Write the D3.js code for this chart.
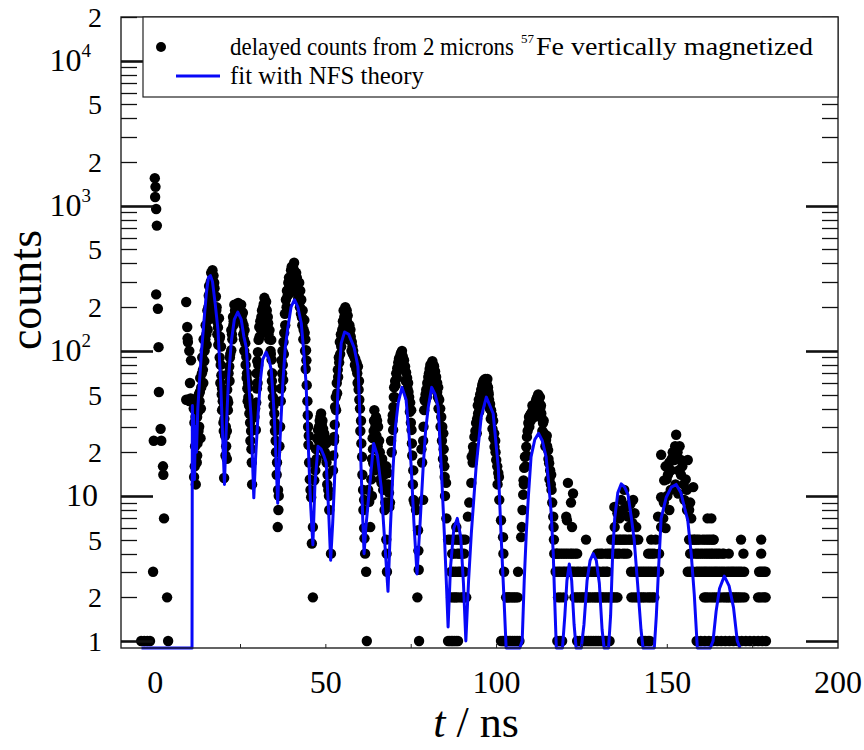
<!DOCTYPE html>
<html>
<head>
<meta charset="utf-8">
<script src="https://cdn.jsdelivr.net/npm/d3@7"></script>
<style>
  body { margin: 0; background: #fff; }
</style>
</head>
<body>
<svg width="864" height="750" font-family="'Liberation Serif', 'DejaVu Serif', 'Times New Roman', serif"></svg>
<script>
// delayed counts [t in ns, counts]
const delayedCounts = [
  [-4.1,1],[-3.2,1],[-2.3,1],[-1.5,1],[-0.6,3],[-0.4,24],[-0.1,1550],[0.1,1350],[0.0,1150],[0.3,950],[0.5,730],
  [0.3,245],[0.8,195],[1.0,106],[1.1,52],[1.6,29],[1.8,24],[2.3,16],[2.4,14],[2.6,7],[3.5,2],[3.8,1],
  [9.1,217],[9.1,46],[9.4,146],[9.5,122],[9.6,115],[10.5,86],[11.1,46],[11.5,32],[11.7,22],[12.0,28],[11.4,13.5],
  [12.2,17],[11.9,12],[12.6,38],[13.0,45],[13.5,56],[14.0,74],[14.5,100],[15.0,130],[15.3,190],[15.5,163],[16.0,250],
  [16.4,345],[16.8,360],[17.0,300],[17.3,295],[17.5,200],[17.8,237],[18.1,160],[18.7,168],[19.0,125],[19.3,107],
  [19.4,68],[19.8,45],[19.6,39],[20.0,32],[20.3,34],[20.8,22],[20.2,13.3],[21.0,18],
  [15.8,280],[16.2,220],[16.6,300],[17.2,240],[17.6,170],[18.0,200],[18.4,145],[15.6,200],[16.0,170],[14.8,150],
  [14.2,120],[13.8,90],[13.2,65],[12.8,50],[18.9,90],[19.1,60],[19.6,55],[20.5,26],[12.4,23],[12.9,30],[13.3,25],
  [9.6,46],[10.0,45],[10.4,47],[10.8,46],[10.0,100],[10.2,60],[11.3,40],[11.8,35],[12.1,24],[11.6,16],[12.3,19],
  [12.3,35],[12.7,28],[13.1,52],[13.4,40],[13.7,70],[14.1,60],[14.4,85],[14.7,120],[15.1,110],[15.4,140],[15.7,240],
  [16.3,300],[16.6,260],[17.1,330],[17.4,270],[17.9,190],[18.2,130],[18.5,110],[18.8,120],[19.2,80],[19.5,50],
  [19.9,40],[20.1,28],[20.6,19],
  [21.1,54],[21.2,46],[21.3,39],[21.7,78],[22.3,101],[22.3,139],[22.8,171],[23.2,208],[23.7,200],[24.3,214],[24.8,200],
  [25.2,208],[25.7,183],[26.2,139],[26.4,113],[26.7,91],[27.2,60],[27.3,48],[27.6,37],[28.1,28],[28.2,21],[28.4,12],
  [22.6,120],[23.0,160],[23.5,180],[24.0,190],[24.6,180],[25.0,170],[25.5,160],[25.9,150],[26.0,120],[21.9,90],
  [21.5,70],[26.9,70],[27.0,55],
  [21.4,44],[21.8,62],[22.0,95],[22.5,130],[22.9,150],[23.4,190],[23.9,210],[24.5,195],[25.1,190],[25.4,175],
  [25.8,130],[26.1,100],[26.5,80],[26.8,65],[27.1,45],[27.5,42],[27.8,32],[27.9,24],[28.3,17],[21.0,28],[20.7,30],
  [29.1,35],[29.5,28.5],[29.6,44],[29.7,70],[30.1,98],[30.3,119],[30.5,146],[31.1,171],[31.6,198],[32.0,232],[32.5,218],
  [33.0,171],[33.5,139],[34.0,119],[34.1,87],[34.5,48],[34.9,37],[35.1,28],[35.4,20],[35.7,17],[36.0,11],[36.1,8],[35.9,6.1],
  [30.8,160],[31.3,190],[31.8,210],[32.3,180],[32.8,150],[33.2,130],[33.8,100],[34.3,70],[30.0,60],[29.9,85],
  [29.3,40],[29.8,55],[30.2,80],[30.6,125],[31.0,140],[31.4,165],[31.9,185],[32.2,200],[32.7,190],[33.1,155],
  [33.4,120],[33.9,95],[34.2,62],[34.4,55],[34.7,42],[35.0,32],[35.3,24],[35.6,14],[36.2,10],
  [36.6,30],[37.0,86],[37.5,63],[37.8,133],[38.3,225],[39.0,295],[39.4,250],[39.8,360],[40.3,330],[40.7,405],[41.0,300],
  [41.3,345],[41.8,260],[42.2,295],[42.8,225],[43.2,190],[43.7,163],[43.8,133],[44.2,101],[44.3,86],[44.4,58],[44.8,30],
  [44.9,22.5],[45.1,17],[45.7,9.8],[46.2,6.1],[46.2,2],[45.9,4.7],
  [38.6,260],[39.2,320],[39.6,280],[40.0,380],[40.5,370],[41.5,320],[42.0,240],[42.5,260],[43.0,170],[38.0,180],
  [37.3,100],[37.6,115],[43.5,140],[44.0,120],
  [36.8,45],[37.2,70],[37.4,80],[37.7,95],[38.1,150],[38.5,200],[38.8,240],[39.3,280],[39.7,310],[40.2,350],
  [40.9,350],[41.2,280],[41.6,300],[41.9,230],[42.4,200],[42.7,180],[43.1,150],[43.4,120],[43.9,100],[44.1,75],
  [44.6,45],[44.7,36],[45.0,26],[45.3,13],[45.5,11],[36.4,22],[36.9,55],
  [46.6,12.8],[47.1,21],[47.7,28.5],[48.2,33],[48.6,37],[49.0,33],[49.5,27],[50.1,23],[50.2,17],[50.7,11],[51.0,8],[51.5,4],
  [47.4,25],[48.0,30],[48.4,35],[48.8,31],[49.2,29],[49.8,25],[47.0,17],[50.5,14],
  [46.9,15],[47.3,18],[47.9,24],[48.4,28],[49.3,23],[49.7,20],[50.0,19],[50.4,12],[50.9,10],
  [52.1,15],[52.4,24],[52.4,25.5],[52.7,41],[53.0,39],[53.3,51],[53.6,66],[53.9,83],[54.5,107],[54.8,140],[55.4,171],
  [55.9,185],[56.2,160],[56.8,139],[57.3,125],[57.8,107],[58.3,91],[59.0,83],[59.4,78],[59.6,54],[59.8,46],[60.3,33],
  [60.4,23],[60.6,18.6],[60.9,11],[61.2,9.4],[61.3,5.1],[61.5,4],[61.8,3],[62.0,1],
  [54.2,95],[54.6,125],[55.0,160],[55.6,180],[56.0,170],[56.5,150],[57.0,130],[57.6,115],[58.0,100],[58.6,88],
  [59.2,70],[55.2,150],[56.6,120],
  [52.2,19],[52.6,31],[52.9,48],[53.2,60],[53.5,74],[53.8,90],[54.1,115],[54.4,130],[54.9,120],[55.2,190],[55.7,200],
  [56.1,190],[56.4,175],[56.9,150],[57.2,140],[57.5,100],[57.9,95],[58.5,80],[58.9,75],[59.3,60],[59.7,62],[60.0,40],
  [60.1,28],[60.7,14],[61.0,8],[61.2,6],
  [62.4,11],[62.7,9.1],[63.0,6.1],[63.8,21],[63.9,16.8],[64.2,39],[64.7,35],[65.3,30],[65.6,24],[64.3,15],[66.2,15],
  [66.3,12.3],[66.8,11],[67.2,8],[67.7,16],[68.1,14.4],[67.7,5],[67.8,4],[67.9,3],[68.5,10.5],[68.6,8.4],
  [63.3,13],[64.0,28],[64.5,30],[65.0,33],[65.8,20],[66.5,18],[67.0,14],[63.5,10],
  [63.5,18],[63.7,25],[64.1,33],[64.8,26],[65.2,22],[65.9,17],[66.0,13],[66.6,14],[67.4,12],[67.4,9],[68.3,12],[68.8,9],
  [69.1,24],[69.7,28.5],[69.8,41],[70.0,56],[70.6,70],[71.2,83],[71.6,90],[72.1,97],[72.5,92],[72.9,86],[73.5,71],
  [74.1,60],[74.4,48],[75.0,39],[75.1,28.5],[75.2,23],[75.6,15],[75.7,9.4],[76.0,8.9],[76.4,8],[77.0,5.8],[77.1,4.2],
  [77.2,3.1],[76.8,2],[77.3,1],
  [70.3,62],[70.9,76],[71.4,88],[71.9,95],[72.3,100],[72.7,88],[73.2,78],[73.8,65],[74.7,44],[70.2,48],[69.5,33],
  [69.3,20],[69.6,36],[69.9,48],[70.4,58],[70.8,65],[71.3,75],[71.8,85],[72.2,90],[72.6,78],[73.0,75],[73.4,62],
  [73.9,55],[74.2,52],[74.6,38],[74.9,32],[75.3,19],[75.5,12],
  [78.0,21],[78.5,24],[78.5,9.4],[78.8,39],[79.4,54],[80.0,66],[80.4,75],[80.8,78],[81.2,85],[81.7,78],[82.3,66],
  [82.9,56],[83.2,46],[83.8,35],[84.4,27],[84.5,21],[84.7,16],[84.8,13.5],[85.2,12.3],[85.3,7],[85.8,5],[85.8,1],
  [79.1,45],[79.7,60],[80.2,70],[80.6,80],[81.0,82],[81.5,80],[82.0,72],[82.6,60],[83.5,40],[84.1,30],
  [78.2,17],[78.6,30],[78.9,46],[79.2,50],[79.6,48],[79.9,58],[80.3,62],[80.7,70],[81.1,75],[81.4,70],[81.9,65],
  [82.2,58],[82.6,52],[82.8,48],[83.0,40],[83.6,30],[84.0,24],[84.3,18],[84.9,10],
  [86.3,5],[86.7,3],[86.7,2],[87.2,1],[87.5,4],[88.2,6.1],[88.4,5],[88.7,1],[88.7,3],[88.2,2],[89.0,4],[89.3,5],
  [89.7,3],[89.6,2],[90.0,4],[90.3,5],[90.5,3],[91.1,2],[91.6,7.2],[92.0,9],
  [87.0,5],[87.7,5],[88.9,5],[89.8,5],[90.8,5],[87.0,4],[88.5,4],[89.5,4],[90.5,4],[87.3,3],[88.0,3],[89.2,3],
  [90.0,3],[87.3,2],[87.8,2],[88.8,2],[90.1,2],[90.6,2],[86.3,1],[86.8,1],[87.7,1],[88.2,1],
  [92.6,12.3],[92.7,18.6],[93.1,21.8],[93.5,25.5],[94.0,31.8],[94.6,37],[94.8,46],[95.5,54],[96.0,60],[96.4,63],
  [97.0,60],[97.5,56],[97.8,46],[98.4,39],[99.0,33],[99.3,27],[99.4,21.8],[99.9,17.7],[100.5,14.4],[100.7,13.5],
  [100.8,9.4],[101.3,6.8],[101.9,5.2],[102.0,4],[102.2,3],[102.8,2],[103.4,2],[104.3,2],[105.2,2],[105.7,2],
  [101.3,1],[102.2,1],[103.2,1],[104.2,1],[105.2,1],[106.2,1],[106.3,3],
  [94.3,34],[95.0,42],[95.2,50],[95.8,58],[96.2,62],[96.7,64],[97.2,58],[97.6,52],[98.1,43],[98.7,36],[99.6,24],
  [94.9,38],[101.8,1],[102.7,1],[103.7,1],[104.7,1],[105.7,1],[106.7,1],[103.0,2],[103.8,2],[104.8,2],[106.2,2],
  [93.0,17],[93.3,20],[93.8,28],[94.2,27],[94.5,42],[95.1,46],[95.4,47],[95.7,50],[96.3,54],[96.8,55],[97.3,64],
  [97.7,50],[98.0,40],[98.3,34],[98.8,29],[99.1,25],[99.7,20],[100.2,16],[100.3,12],
  [107.2,5.2],[107.4,6.1],[107.8,10.2],[107.9,12.8],[108.1,15.6],[108.3,18.6],[108.7,21.8],[108.9,25.5],[109.3,31.8],
  [109.5,35],[110.1,37],[110.7,39],[111.2,42],[111.6,46],[112.2,50],[112.5,43.7],[113.1,37],[113.6,31.8],[113.9,27],
  [114.5,24.3],[115.1,20.7],[115.4,16.8],[116.0,14],[116.1,11],[116.6,7.2],[116.7,6.1],[116.8,5],[116.9,4],[117.3,3],
  [109.8,36],[110.4,38],[111.0,40],[111.4,44],[111.9,48],[112.8,40],[113.3,34],[114.2,26],[114.8,22],[115.7,15],
  [112.0,45],
  [107.6,8],[108.0,12],[108.5,16],[108.8,19],[109.1,28],[109.6,30],[110.0,33],[110.5,42],[111.0,35],[111.5,38],
  [112.4,38],[112.7,48],[113.0,42],[113.4,28],[113.8,33],[114.3,22],[114.7,26],[115.2,18],[115.5,13],[115.9,12],[116.3,9],
  [117.6,4],[118.4,3],[119.0,4],[119.5,3],[118.0,2],[118.7,2],[119.6,2],[117.8,1],[118.6,1],[119.2,1],
  [120.4,7.2],[120.6,6.8],[120.9,12.3],[121.3,3],[121.6,4],[121.8,9],[122.4,10.4],[122.1,6.1],[123.1,4],[123.5,3],
  [122.8,2],[123.6,1],[124.3,1],[124.8,2],[125.4,3],[125.7,2],[125.3,1],[126.2,5],[126.4,3],[126.9,1],[127.0,2],
  [127.8,3],[128.4,1],[128.6,2],[129.2,3],[129.5,4],[129.9,1],[130.0,2],[130.6,4],[131.3,2],[131.5,3],[131.8,1],
  [132.5,4],[132.6,1],[132.8,2],[133.5,4],[134.5,2],[135.4,2],
  [125.8,1],[126.4,1],[127.4,1],[127.9,1],[128.9,1],[129.4,1],[130.4,1],[130.9,1],[131.3,1],[132.1,1],[133.1,1],
  [123.3,2],[123.8,2],[124.3,2],[125.2,2],[126.2,2],[126.6,2],[127.5,2],[128.1,2],[129.1,2],[129.5,2],[130.5,2],
  [130.9,2],[131.8,2],[132.3,2],[133.3,2],[133.8,2],[134.0,2],[135.0,2],
  [117.9,3],[118.9,3],[119.9,3],[120.4,3],[120.9,3],[121.8,3],[122.3,3],[122.8,3],[124.0,3],[124.6,3],[125.9,3],
  [126.9,3],[128.3,3],[128.8,3],[129.7,3],[130.2,3],[131.0,3],[132.1,3],[132.5,3],
  [117.5,4],[118.0,4],[118.5,4],[119.5,4],[120.0,4],[120.5,4],[121.0,4],[122.0,4],[122.5,4],[123.6,4],[130.1,4],
  [131.0,4],[131.9,4],[133.0,4],[134.0,4],[134.9,4],[135.5,4],[136.0,4],[137.0,4],[137.6,4],
  [133.6,5],[134.5,8.4],[134.6,6.1],[135.0,5],[135.4,7.6],[136.3,5],[136.5,9.4],[137.4,11],[137.6,5],[138.0,8.4],
  [138.3,4],[138.5,7.2],[138.7,6.1],[139.5,5],[140.0,9.4],[140.4,7.6],[140.9,6.1],[141.5,5],[139.4,3],[140.3,3],
  [141.5,3],[139.5,2],[140.9,2],[142.5,2],[142.6,1],[143.2,1],[144.4,1],[144.7,2],[143.5,3],[145.3,5],[146.2,4],
  [144.4,4],[145.8,2],[146.6,3],[147.6,3],
  [134.1,5],[134.6,5],[135.5,5],[136.0,5],[136.8,5],[137.2,5],[138.0,5],[138.6,5],[139.0,5],[140.0,5],[140.5,5],
  [141.0,5],[136.0,7],[136.9,8],[139.2,8.8],[139.8,6.5],[143.7,1],[144.9,1],
  [140.2,2],[141.5,2],[142.0,2],[143.0,2],[143.5,2],[144.2,2],[145.2,2],[146.2,2],
  [140.8,3],[142.0,3],[142.5,3],[143.0,3],[144.0,3],[144.5,3],[145.0,3],[145.5,3],[146.1,3],[147.1,3],[145.0,4],[145.6,4],
  [146.6,5],[147.3,7.2],[148.2,6.1],[147.6,4],[148.2,9.8],[148.2,19.2],[149.1,12.8],[149.5,16],[150.2,14],[151.1,15],
  [151.6,20],[152.0,17.7],[152.6,26.4],[153.2,10.4],[153.6,22],[154.0,17.7],[154.0,14],[154.8,12],[155.0,9.4],
  [156.0,17.7],[156.4,8],[156.0,3],[156.4,5],[157.0,7],[157.6,11.5],[157.9,5],[158.2,4],[158.5,3],[159.5,5],
  [149.8,13],[150.6,17],[151.3,18],[152.3,22],[153.0,20],[153.3,15],[154.4,16],[155.4,13],[155.7,11],[149.0,9],
  [150.0,10],[151.0,11],[152.4,12],[155.8,8],[156.7,9],[150.6,8],[148.8,7],[149.5,6],
  [159.8,4],[160.3,5],[160.5,3],[160.8,2],[161.4,4],[161.9,5],[162.4,3],[162.5,2],[162.9,7],[163.3,4],[163.6,5],
  [163.8,2],[164.3,3],[164.9,4],[165.0,2],[165.8,3],[166.2,4],[166.9,2],[167.4,3],[168.0,4],[168.5,2],[169.3,3],
  [169.9,2],[170.8,3],[170.8,2],[171.6,5],[172.3,4],[172.5,3],[172.6,2],[176.6,2],[177.5,5],[177.5,4],[177.8,3],
  [178.4,2],[178.8,3],
  [156.8,5],[157.4,5],[158.0,5],[158.6,5],[159.0,5],[160.8,5],[161.4,5],[162.4,5],[162.9,5],[163.4,5],[161.8,7],
  [156.7,4],[157.3,4],[158.7,4],[159.2,4],[160.3,4],[160.9,4],[161.9,4],[162.4,4],[162.9,4],[163.9,4],[164.4,4],
  [165.4,4],[166.6,4],
  [156.6,3],[157.1,3],[157.6,3],[159.0,3],[159.5,3],[160.0,3],[161.0,3],[161.4,3],[161.9,3],[162.9,3],[163.4,3],
  [163.9,3],[164.8,3],[165.3,3],[166.3,3],[166.8,3],[167.9,3],[168.4,3],[168.9,3],[169.8,3],[170.3,3],[171.3,3],
  [171.8,3],[176.9,3],[177.3,3],[178.3,3],
  [161.3,2],[161.8,2],[163.2,2],[164.4,2],[165.5,2],[166.3,2],[167.5,2],[167.9,2],[169.0,2],[169.4,2],[170.3,2],
  [171.3,2],[171.9,2],[177.1,2],[177.8,2],[178.8,2],
  [158.6,1],[159.8,1],[161.0,1],[162.2,1],[163.4,1],[164.6,1],[165.8,1],[167.0,1],[168.2,1],[169.4,1],[170.6,1],
  [171.8,1],[173.0,1],[174.2,1],[175.4,1],[176.6,1],[177.8,1],[178.9,1]
];

// NFS fit [t in ns, counts]
const fitCurve = [
  [-4,0.5],[10.8,0.5],[10.9,42],[11.1,22],[11.3,36],[11.5,13],[11.8,30],[12.1,20],[12.5,40],[13.0,62],[13.6,100],
  [14.3,160],[15.0,250],[15.6,320],[16.2,330],[16.8,300],[17.6,210],[18.4,140],[19.2,60],[19.8,25],[20.3,12],
  [20.8,28],[21.5,65],[22.3,115],[23.2,165],[24.2,185],[25.2,165],[26.0,125],[26.7,105],[27.4,60],[28.1,35],
  [28.5,18],[28.9,9.7],[29.4,18],[30.1,35],[30.8,62],[31.5,87],[32.5,98],[33.3,88],[34.0,74],[34.5,50],[34.9,35],
  [35.4,18],[35.9,8.9],[36.6,25],[37.4,60],[38.1,105],[38.9,146],[39.8,200],[40.8,225],[41.8,200],[42.8,155],
  [43.5,100],[44.2,60],[44.9,21],[45.5,9],[46.2,4.6],[46.8,12],[47.7,22],[48.6,21],[49.4,19],[50.1,17],[50.8,8],
  [51.4,3.6],[52.0,6.5],[52.5,12],[53.5,51],[54.5,113],[55.5,135],[56.7,130],[58.3,105],[59.4,78],[59.9,40],
  [60.3,15.8],[60.8,7],[61.2,4],[61.7,6],[62.8,11.5],[64.0,23],[65.1,19],[66.2,11.5],[67.2,5],[68.2,2.2],[68.9,6],
  [69.7,15.8],[70.4,30],[71.2,44],[72.3,56],[73.5,46],[74.3,28],[75.0,15.8],[75.8,6.5],[76.7,2.9],[77.6,6.5],
  [78.5,15.8],[79.2,28],[80.0,41],[81.0,56],[82.0,50],[82.9,41],[83.8,15.8],[84.7,5.5],[85.3,2.5],[85.8,1.25],
  [86.5,3.2],[87.5,6],[88.5,7],[89.5,5.2],[90.3,2.5],[91.0,1.0],[91.8,2.6],[92.6,5.5],[94.0,15.8],[95.5,35],
  [97.0,48],[99.0,37],[100.5,15.8],[101.3,5.5],[102.2,1.9],[102.8,0.5],[106.8,0.5],[107.5,1.0],[108.1,2.6],
  [108.7,5.5],[109.3,9.8],[110.1,18.6],[111.2,24.5],[112.3,27],[113.4,24],[114.5,18.6],[115.3,12],[116.0,7.6],
  [116.6,4],[117.0,2],[117.5,0.5],[119.3,0.5],[120.0,1.5],[120.6,2.6],[121.3,3.4],[122.0,2.6],[122.7,1.3],
  [123.3,0.5],[124.8,0.5],[125.6,1.3],[126.5,2.6],[127.4,3.6],[128.3,4],[129.2,3.6],[130.1,2.5],[130.9,1.2],
  [131.5,0.5],[132.8,0.5],[133.4,1.5],[134.0,4],[134.6,7],[135.5,10.5],[136.5,12.1],[137.5,11.5],[138.5,10.2],
  [139.5,7],[140.3,5],[141.3,2.5],[142.3,1.2],[142.9,0.5],[146.2,0.5],[146.8,1.5],[147.4,3],[148.2,7],[149.7,9.8],
  [151.2,11.5],[152.6,12],[154.0,10.5],[155.2,8],[156.0,6.8],[157.0,4],[157.9,2.1],[158.8,0.8],[159.3,0.5],
  [162.6,0.5],[163.4,1.0],[164.3,1.6],[165.3,2.3],[166.7,2.8],[168.1,2.4],[169.4,1.7],[170.5,1.0],[171.3,0.5]
];

const xTickLabels = [0, 50, 100, 150, 200];
const xMinorTicks = [25, 50, 75, 100, 125, 150, 175];
const yTickValues = [1, 2, 5, 10, 20, 50, 100, 200, 500, 1000, 2000, 5000, 10000, 20000];
const yTickLabels = ["1", "2", "5", "10", "2", "5", "10^2", "2", "5", "10^3", "2", "5", "10^4", "2"];
const legendParts = ["delayed counts from 2 microns", "57", "Fe vertically magnetized"];
const fitLabel = "fit with NFS theory";

const svg = d3.select("svg");
const pLeft = 121, pRight = 838, pTop = 17, pBottom = 648;

const x = d3.scaleLinear().domain([-10, 200]).range([pLeft, pRight]);
const y = d3.scaleLog().domain([0.895, 20000]).range([pBottom, pTop]).clamp(true);

// data points
svg.append("g").selectAll("circle")
  .data(delayedCounts)
  .join("circle")
    .attr("cx", d => x(d[0]))
    .attr("cy", d => y(d[1]))
    .attr("r", 5.2)
    .attr("fill", "#000");

// fit
const line = d3.line().x(d => x(d[0])).y(d => y(d[1]));
svg.append("path")
  .datum(fitCurve)
  .attr("d", line)
  .attr("fill", "none")
  .attr("stroke", "#0808f8")
  .attr("stroke-width", 3)
  .attr("stroke-linejoin", "round");

// frame
svg.append("rect")
  .attr("x", pLeft).attr("y", pTop)
  .attr("width", pRight - pLeft).attr("height", pBottom - pTop)
  .attr("fill", "none").attr("stroke", "#222").attr("stroke-width", 1.4);

// y ticks, both sides, pointing in
const yAll = y.ticks().filter(v => v >= 1 && v <= 20000);
const isMajor = v => Math.abs(Math.log10(v) - Math.round(Math.log10(v))) < 1e-9;
const tickG = svg.append("g");
yAll.forEach(v => {
  const len = isMajor(v) ? 32 : 16;
  const w = isMajor(v) ? 2.6 : 1.3;
  const yy = Math.round(y(v)) + 0.5;
  tickG.append("line").attr("x1", pLeft).attr("x2", pLeft + len).attr("y1", yy).attr("y2", yy)
    .attr("stroke", "#111").attr("stroke-width", w);
  tickG.append("line").attr("x1", pRight - len).attr("x2", pRight).attr("y1", yy).attr("y2", yy)
    .attr("stroke", "#111").attr("stroke-width", w);
});

// x ticks
xMinorTicks.forEach(v => {
  tickG.append("line").attr("x1", x(v)).attr("x2", x(v)).attr("y1", pBottom).attr("y2", pBottom - 4)
    .attr("stroke", "#222").attr("stroke-width", 1);
});

// y tick labels
const yLab = svg.append("g").attr("font-size", 28);
yTickValues.forEach((v, i) => {
  const lab = yTickLabels[i];
  const t = yLab.append("text").attr("y", y(v) + 10).attr("text-anchor", "end");
  if (lab.includes("^")) {
    const [b, e] = lab.split("^");
    t.attr("x", 91).attr("font-size", 32);
    t.append("tspan").text(b);
    t.append("tspan").attr("font-size", 19).attr("dy", -14).text(e);
  } else if (lab.length > 1) {
    t.attr("x", 98).attr("font-size", 32).text(lab);
  } else {
    t.attr("x", 102).text(lab);
  }
});

// x tick labels
svg.append("g").attr("font-size", 32)
  .selectAll("text")
  .data(xTickLabels)
  .join("text")
    .attr("x", d => x(d))
    .attr("y", 693)
    .attr("text-anchor", "middle")
    .text(d => d);

// axis titles
svg.append("text")
  .attr("transform", "translate(41,290) rotate(-90)")
  .attr("text-anchor", "middle")
  .attr("font-size", 46)
  .text("counts");

const xt = svg.append("text")
  .attr("x", 476).attr("y", 737)
  .attr("text-anchor", "middle")
  .attr("font-size", 44);
xt.append("tspan").attr("font-style", "italic").text("t");
xt.append("tspan").text(" / ns");

// legend
const lg = svg.append("g");
lg.append("rect")
  .attr("x", 143).attr("y", pTop)
  .attr("width", pRight - 143).attr("height", 80)
  .attr("fill", "#fff").attr("stroke", "#222").attr("stroke-width", 1.2);
lg.append("circle").attr("cx", 161).attr("cy", 47).attr("r", 5).attr("fill", "#000");
lg.append("line").attr("x1", 176).attr("x2", 220).attr("y1", 76).attr("y2", 76)
  .attr("stroke", "#0808f8").attr("stroke-width", 3);
const l1 = lg.append("text").attr("y", 55).attr("font-size", 25);
l1.append("tspan").attr("x", 230)
  .attr("textLength", 284).attr("lengthAdjust", "spacingAndGlyphs").text(legendParts[0]);
l1.append("tspan").attr("x", 521).attr("dy", -12).attr("font-size", 13).text(legendParts[1]);
l1.append("tspan").attr("x", 536).attr("dy", 12)
  .attr("textLength", 277).attr("lengthAdjust", "spacingAndGlyphs").text(legendParts[2]);
lg.append("text").attr("x", 230).attr("y", 84).attr("font-size", 25)
  .attr("textLength", 194).attr("lengthAdjust", "spacingAndGlyphs").text(fitLabel);
</script>
</body>
</html>
